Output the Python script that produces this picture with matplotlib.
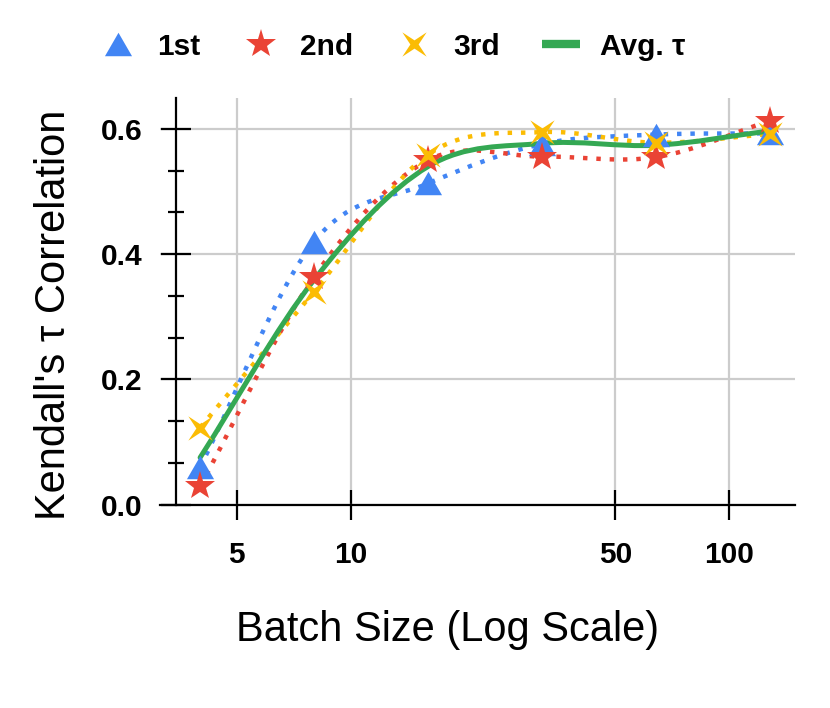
import numpy as np
import matplotlib
matplotlib.use("Agg")
import matplotlib.pyplot as plt
from matplotlib.path import Path
from matplotlib.patches import PathPatch
from matplotlib.lines import Line2D
from matplotlib.ticker import AutoMinorLocator, NullLocator, FixedLocator

batch = [4, 8, 16, 32, 64, 128]
first = [0.060, 0.420, 0.513, 0.576, 0.591, 0.593]
second = [0.029, 0.364, 0.550, 0.556, 0.555, 0.613]
third = [0.123, 0.340, 0.559, 0.595, 0.578, 0.592]
avg_tau = [0.075, 0.359, 0.540, 0.577, 0.574, 0.597]

labels = ["1st", "2nd", "3rd", "Avg. \u03c4"]
xticks = [5, 10, 50, 100]
yticks = [0.0, 0.2, 0.4, 0.6]

BLUE = "#4285F4"
RED = "#EA4335"
YELLOW = "#FBBC04"
GREEN = "#34A853"

plt.rcParams["font.family"] = ["Liberation Sans", "DejaVu Sans"]

# markers
TRI = Path([(0, 0.433), (-0.5, -0.433), (0.5, -0.433), (0, 0.433)],
           [Path.MOVETO, Path.LINETO, Path.LINETO, Path.CLOSEPOLY])
r = 0.34
XSTAR = Path([(1, 1), (r, 0), (1, -1), (0, -r), (-1, -1), (-r, 0), (-1, 1),
              (0, r), (1, 1)],
             [Path.MOVETO] + [Path.LINETO] * 7 + [Path.CLOSEPOLY])


def smooth_path(xs, ys):
    """Cubic Bezier path through the points (uniform in log2 x)."""
    u = np.log2(np.asarray(xs, float))
    y = np.asarray(ys, float)
    n = len(y)
    m = np.empty(n)
    m[1:-1] = (y[2:] - y[:-2]) / 2
    m[0] = y[1] - y[0]
    m[-1] = y[-1] - y[-2]
    verts = [(2 ** u[0], y[0])]
    codes = [Path.MOVETO]
    for i in range(n - 1):
        d = (u[i + 1] - u[i]) / 3
        verts += [(2 ** (u[i] + d), y[i] + m[i] / 3),
                  (2 ** (u[i + 1] - d), y[i + 1] - m[i + 1] / 3),
                  (2 ** u[i + 1], y[i + 1])]
        codes += [Path.CURVE4] * 3
    return Path(verts, codes)


fig = plt.figure(figsize=(8.3, 7.08), dpi=100)
ax = fig.add_axes([160 / 830, 1 - 504.5 / 708, 635 / 830, 406.8 / 708])
ax.set_xscale("log")

dots = (0, (1.0, 2.0))
for ys, col in [(first, BLUE), (second, RED), (third, YELLOW)]:
    ax.add_patch(PathPatch(smooth_path(batch, ys), fill=False, edgecolor=col,
                           lw=3.2, linestyle=dots, capstyle="butt", zorder=3))
ax.add_patch(PathPatch(smooth_path(batch, avg_tau), fill=False, edgecolor=GREEN,
                       lw=3.6, capstyle="round", joinstyle="round", zorder=4))

ax.plot(batch, first, ls="none", marker=TRI, ms=19.5, color=BLUE,
        mec=BLUE, mew=0, zorder=5)
ax.plot(batch, second, ls="none", marker="*", ms=22, color=RED,
        mec=RED, mew=0, zorder=6)
ax.plot(batch, third, ls="none", marker=XSTAR, ms=17.5, color=YELLOW,
        mec=YELLOW, mew=0, zorder=7)

ax.set_xlim(3.134, 149.1)
ax.set_ylim(0, 0.65)

ax.xaxis.set_major_locator(FixedLocator(xticks))
ax.xaxis.set_minor_locator(NullLocator())
ax.set_xticklabels([str(t) for t in xticks])
ax.set_yticks(yticks)
ax.set_yticklabels([f"{t:.1f}" for t in yticks])
ax.yaxis.set_minor_locator(AutoMinorLocator(3))

for s in ["top", "right"]:
    ax.spines[s].set_visible(False)
ax.spines["left"].set_position(("data", 3.456))
for s in ["left", "bottom"]:
    ax.spines[s].set_linewidth(1.6)
    ax.spines[s].set_zorder(8)

ax.tick_params(axis="both", which="major", direction="inout", length=22,
               width=1.6, labelsize=21.5, color="black")
ax.tick_params(axis="y", which="minor", direction="inout", length=12,
               width=1.6)
ax.tick_params(axis="y", which="major", pad=13)
ax.tick_params(axis="x", which="major", pad=15)
for lab in ax.get_xticklabels() + ax.get_yticklabels():
    lab.set_fontweight("bold")

ax.grid(True, which="major", color="#cccccc", lw=1.6, zorder=0)
ax.set_axisbelow(True)

fig.text(0.065, 0.555, "Kendall's \u03c4 Correlation", rotation=90,
         ha="center", va="center", fontsize=30)
fig.text(0.5396, 0.1095, "Batch Size (Log Scale)", ha="center",
         va="center", fontsize=30)

handles = [
    Line2D([], [], ls="none", marker=TRI, ms=19.5, color=BLUE, mew=0),
    Line2D([], [], ls="none", marker="*", ms=22, color=RED, mew=0),
    Line2D([], [], ls="none", marker=XSTAR, ms=17.5, color=YELLOW, mew=0),
    Line2D([], [], color=GREEN, lw=6, solid_capstyle="butt"),
]
fig.legend(handles, labels, loc="center", bbox_to_anchor=(0.472, 0.934),
           ncol=4, frameon=False, prop={"size": 21.5, "weight": "bold"},
           handlelength=1.3, handletextpad=0.65, columnspacing=1.4)

fig.savefig("out.png", dpi=100)
